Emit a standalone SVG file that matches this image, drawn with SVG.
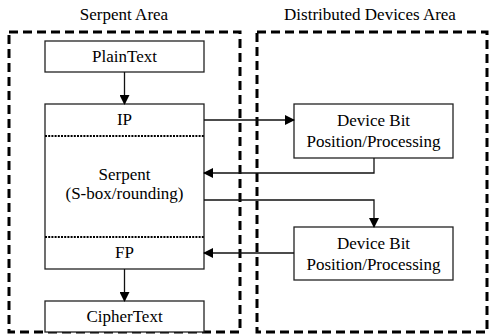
<svg xmlns="http://www.w3.org/2000/svg" width="490" height="336" viewBox="0 0 490 336">
<style>
.area{fill:none;stroke:#000;stroke-width:3;stroke-dasharray:9,5}
.box{fill:#fff;stroke:#222;stroke-width:1.3}
.sep{stroke:#000;stroke-width:2;stroke-dasharray:2,1.2}
.con{fill:none;stroke:#111;stroke-width:1.3}
</style>
<defs>
<marker id="ah" markerWidth="10" markerHeight="10" refX="9" refY="5" orient="auto" markerUnits="userSpaceOnUse">
<path d="M0,0 L10,5 L0,10 Z" fill="#000"/>
</marker>
</defs>
<g font-family="Liberation Serif, serif" font-size="17" fill="#000" text-anchor="middle">
<g id="serpent-area">
<rect class="area" x="9" y="32" width="231" height="300"/>
<text x="124" y="20">Serpent Area</text>
</g>
<g id="devices-area">
<rect class="area" x="257" y="32" width="230" height="300"/>
<text x="370" y="20">Distributed Devices Area</text>
</g>
<g id="plaintext">
<rect class="box" x="45" y="41" width="159" height="31"/>
<text x="124.5" y="62">PlainText</text>
</g>
<g id="serpent-core">
<rect class="box" x="45" y="104" width="159" height="165"/>
<line class="sep" x1="45" y1="136" x2="204" y2="136"/>
<line class="sep" x1="45" y1="237" x2="204" y2="237"/>
<text x="124.5" y="125">IP</text>
<text x="124.5" y="180">Serpent</text>
<text x="124.5" y="199">(S-box/rounding)</text>
<text x="124.5" y="258">FP</text>
</g>
<g id="ciphertext">
<rect class="box" x="45" y="301" width="159" height="31"/>
<text x="124.5" y="322">CipherText</text>
</g>
<g id="device1">
<rect class="box" x="294" y="104" width="159" height="54"/>
<text x="373.5" y="126">Device Bit</text>
<text x="373.5" y="147">Position/Processing</text>
</g>
<g id="device2">
<rect class="box" x="294" y="227" width="159" height="53"/>
<text x="373.5" y="249">Device Bit</text>
<text x="373.5" y="270">Position/Processing</text>
</g>
</g>
<g id="connectors">
<line class="con" x1="124.5" y1="72" x2="124.5" y2="104" marker-end="url(#ah)"/>
<line class="con" x1="124.5" y1="269" x2="124.5" y2="301" marker-end="url(#ah)"/>
<line class="con" x1="204" y1="120" x2="294" y2="120" marker-end="url(#ah)"/>
<polyline class="con" points="374,158 374,173 204,173" marker-end="url(#ah)"/>
<polyline class="con" points="204,200 374,200 374,227" marker-end="url(#ah)"/>
<line class="con" x1="294" y1="253" x2="204" y2="253" marker-end="url(#ah)"/>
</g>
</svg>
